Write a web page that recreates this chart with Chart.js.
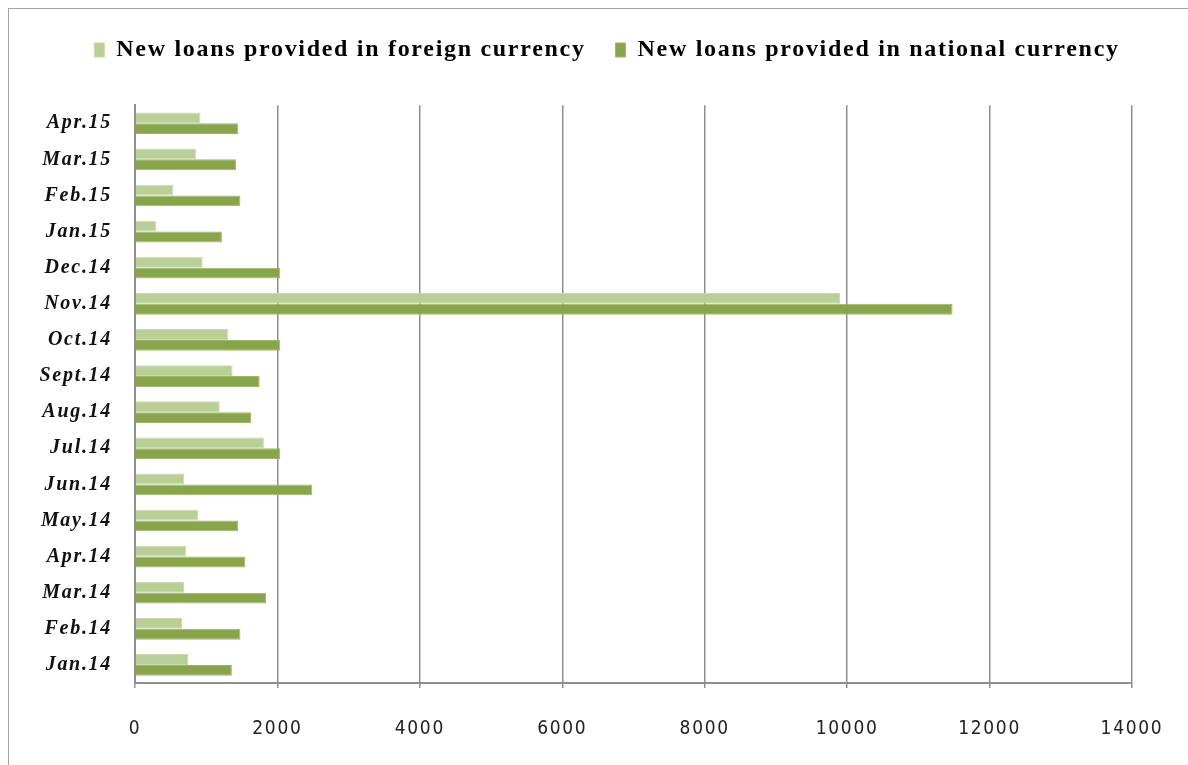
<!DOCTYPE html>
<html>
<head>
<meta charset="utf-8">
<script src="https://cdn.jsdelivr.net/npm/chart.js@4.4.1/dist/chart.umd.min.js"></script>
<style>
  html, body { margin: 0; padding: 0; background: #fff; overflow: hidden; }
  #wrap { position: relative; width: 1188px; height: 765px; }
  #frame { position: absolute; left: 8px; top: 8px; width: 1300px; height: 900px; border: 1px solid #a5a5a5; pointer-events: none; }
  canvas { position: absolute; left: 0; top: 0; }
</style>
</head>
<body>
<div id="wrap">
  <canvas id="c" width="1188" height="765"></canvas>
  <div id="frame"></div>
</div>
<script>
const categories = ["Jan.14","Feb.14","Mar.14","Apr.14","May.14","Jun.14","Jul.14","Aug.14","Sept.14","Oct.14","Nov.14","Dec.14","Jan.15","Feb.15","Mar.15","Apr.15"];
const foreignCurrency = [750, 660, 690, 720, 890, 690, 1810, 1190, 1370, 1310, 9900, 950, 300, 540, 860, 920];
const nationalCurrency = [1360, 1480, 1840, 1550, 1450, 2490, 2040, 1630, 1750, 2040, 11480, 2040, 1220, 1480, 1420, 1450];
const xTicks = [0, 2000, 4000, 6000, 8000, 10000, 12000, 14000];
const seriesNames = ["New loans provided in foreign currency", "New loans provided in national currency"];

const gridGray = '#8f8f8f';

const spacingPlugin = {
  id: 'spacing',
  beforeUpdate(chart) { chart.ctx.letterSpacing = '1.7px'; },
  beforeLayout(chart) { chart.ctx.letterSpacing = '1.7px'; },
  beforeDraw(chart) { chart.ctx.letterSpacing = '1.7px'; }
};

new Chart(document.getElementById('c'), {
  type: 'bar',
  plugins: [spacingPlugin],
  data: {
    labels: categories,
    datasets: [
      { label: seriesNames[0], data: foreignCurrency, backgroundColor: '#b9cf97', borderColor: '#c8dbab', borderWidth: 1, categoryPercentage: 0.6, barPercentage: 1.0 },
      { label: seriesNames[1], data: nationalCurrency, backgroundColor: '#88a54c', borderColor: '#9cb866', borderWidth: 1, categoryPercentage: 0.6, barPercentage: 1.0 }
    ]
  },
  options: {
    indexAxis: 'y',
    responsive: false,
    animation: false,
    layout: { padding: { left: 40, right: 14, top: 8, bottom: 0 } },
    plugins: {
      tooltip: { enabled: false },
      legend: {
        position: 'top',
        labels: {
          color: '#000',
          font: { family: '"Liberation Serif", "Times New Roman", serif', size: 24, weight: 'bold' },
          boxWidth: 10,
          boxHeight: 14,
          padding: 30
        }
      },
      title: {
        display: true,
        text: ' ',
        position: 'top',
        weight: 500,
        font: { size: 1 },
        padding: { top: 16, bottom: 16 }
      }
    },
    scales: {
      x: {
        min: 0,
        max: 14000,
        afterBuildTicks: (s) => { s.ticks = xTicks.map(v => ({ value: v })); },
        afterFit: (s) => { s.height = 82; s.paddingRight = 56; s.paddingLeft = 0; },
        grid: { color: gridGray, lineWidth: 1.5, tickLength: 5, drawOnChartArea: true },
        border: { display: true, color: gridGray, width: 2 },
        ticks: {
          color: '#222',
          padding: 30,
          callback: (v) => String(v),
          font: { family: '"DejaVu Sans Condensed", "DejaVu Sans", sans-serif', size: 19 }
        }
      },
      y: {
        reverse: true,
        afterFit: (s) => { s.width = 95; },
        grid: { display: false },
        border: { display: true, color: gridGray, width: 2 },
        ticks: {
          color: '#111',
          padding: 15,
          font: { family: '"Liberation Serif", "Times New Roman", serif', size: 20, weight: 'bold', style: 'italic' }
        }
      }
    }
  }
});
</script>
</body>
</html>
